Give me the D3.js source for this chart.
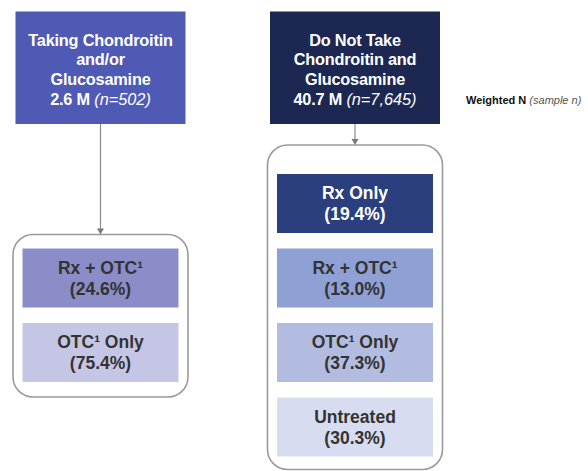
<!DOCTYPE html>
<html>
<head>
<meta charset="utf-8">
<script src="https://cdn.jsdelivr.net/npm/d3@7"></script>
<style>
  html, body { margin: 0; padding: 0; background: #fff; }
  svg { display: block; }
  text { font-family: "Liberation Sans", Arial, sans-serif; }
</style>
</head>
<body>
<div id="chart"></div>
<script>
// ---- data ----
const groups = ["Taking", "NotTaking"];
const headerLines = [
  ["Taking Chondroitin", "and/or", "Glucosamine"],
  ["Do Not Take", "Chondroitin and", "Glucosamine"]
];
const weightedN = ["2.6 M", "40.7 M"];
const sampleN = ["(n=502)", "(n=7,645)"];
const categories = ["Rx Only", "Rx + OTC¹", "OTC¹ Only", "Untreated"];
const takingShares = [null, 24.6, 75.4, null];
const notTakingShares = [19.4, 13.0, 37.3, 30.3];
const legendBold = "Weighted N";
const legendItalic = "(sample n)";

// ---- layout ----
const W = 588, H = 471;
const svg = d3.select("#chart").append("svg").attr("width", W).attr("height", H);

const x = d3.scalePoint().domain(groups).range([100.5, 355]);
const y = d3.scaleBand().domain(categories).range([174, 456.5]).paddingInner(0.208).paddingOuter(0);

const headerFill = ["#4F5AB5", "#1D2852"];
const catFill = {
  Taking: ["#2B3F7E", "#8A8DC8", "#C5C6E6", "#D8DCF0"],
  NotTaking: ["#2B3F7E", "#8EA0D4", "#B1BCE0", "#D8DCF0"]
};
const catText = ["#ffffff", "#333333", "#333333", "#333333"];

const headerW = 170, headerTop = 11.5, headerBot = 124;
const innerW = 156;
const containerW = 175;
const containerPad = { Taking: [14, 15], NotTaking: [29, 13] };

const seriesByGroup = { Taking: takingShares, NotTaking: notTakingShares };

groups.forEach((g, gi) => {
  const cx = x(g);
  // header box
  svg.append("rect")
    .attr("x", cx - headerW / 2).attr("y", headerTop)
    .attr("width", headerW).attr("height", headerBot - headerTop)
    .attr("fill", headerFill[gi]);
  const lineYs = [40, 59.7, 79.4, 99.1];
  headerLines[gi].forEach((ln, li) => {
    svg.append("text")
      .attr("x", cx).attr("y", lineYs[li])
      .attr("dy", "0.35em")
      .attr("text-anchor", "middle")
      .attr("fill", "#fff")
      .attr("font-size", 16.3).attr("font-weight", "bold")
      .attr("letter-spacing", "-0.2")
      .text(ln);
  });
  const t = svg.append("text")
    .attr("x", cx).attr("y", lineYs[3]).attr("dy", "0.35em")
    .attr("text-anchor", "middle").attr("fill", "#fff").attr("font-size", 16.3);
  t.append("tspan").attr("font-weight", "bold").attr("letter-spacing", "-0.2").text(weightedN[gi] + " ");
  t.append("tspan").attr("font-style", "italic").text(sampleN[gi]);

  // container
  const vals = seriesByGroup[g];
  const present = categories.filter((c, i) => vals[i] !== null);
  const cTop = y(present[0]) - containerPad[g][0];
  const cBot = y(present[present.length - 1]) + y.bandwidth() + containerPad[g][1];
  svg.append("rect")
    .attr("x", cx - containerW / 2).attr("y", cTop)
    .attr("width", containerW).attr("height", cBot - cTop)
    .attr("rx", 20).attr("ry", 20)
    .attr("fill", "#fff").attr("stroke", "#9a9a9a").attr("stroke-width", 1.6);

  // arrow
  svg.append("line")
    .attr("x1", cx).attr("x2", cx)
    .attr("y1", headerBot).attr("y2", cTop - 4)
    .attr("stroke", "#8a8a8a").attr("stroke-width", 1.2);
  svg.append("path")
    .attr("d", `M${cx - 3.5},${cTop - 6} L${cx + 3.5},${cTop - 6} L${cx},${cTop} Z`)
    .attr("fill", "#7a7a7a");

  // category boxes
  categories.forEach((c, ci) => {
    const v = vals[ci];
    if (v === null) return;
    const by = y(c);
    svg.append("rect")
      .attr("x", cx - innerW / 2).attr("y", by)
      .attr("width", innerW).attr("height", y.bandwidth())
      .attr("fill", catFill[g][ci]);
    const mid = by + y.bandwidth() / 2;
    svg.append("text")
      .attr("x", cx).attr("y", mid - 10.5).attr("dy", "0.35em")
      .attr("text-anchor", "middle").attr("fill", catText[ci])
      .attr("font-size", 17.5).attr("font-weight", "bold")
      .text(c);
    svg.append("text")
      .attr("x", cx).attr("y", mid + 10.5).attr("dy", "0.35em")
      .attr("text-anchor", "middle").attr("fill", catText[ci])
      .attr("font-size", 17.5).attr("font-weight", "bold")
      .text("(" + d3.format(".1f")(v) + "%)");
  });
});

// legend note
const lg = svg.append("text").attr("x", 466).attr("y", 100).attr("dy", "0.35em")
  .attr("font-size", 11).attr("fill", "#111");
lg.append("tspan").attr("font-weight", "bold").text(legendBold + " ");
lg.append("tspan").attr("font-style", "italic").attr("fill", "#555").text(legendItalic);
</script>
</body>
</html>
